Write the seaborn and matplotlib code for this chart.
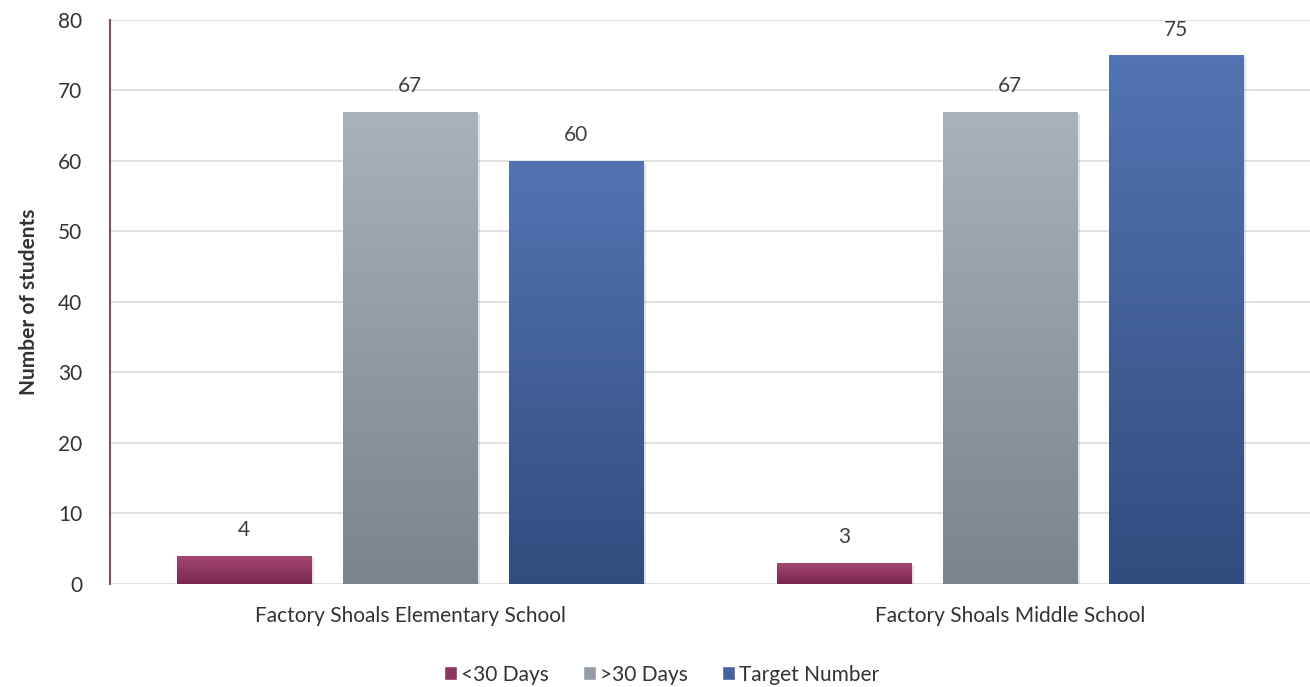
import numpy as np
import pandas as pd
import matplotlib
matplotlib.use("Agg")
import matplotlib.pyplot as plt
from matplotlib.colors import LinearSegmentedColormap
from matplotlib.patches import Patch
import seaborn as sns

schools = ["Factory Shoals Elementary School", "Factory Shoals Middle School"]
series = ["<30 Days", ">30 Days", "Target Number"]
under_30 = [4, 3]
over_30 = [67, 67]
target = [60, 75]

# top / bottom colours of each bar gradient
grad = {
    "<30 Days": ("#a5496f", "#79264f"),
    ">30 Days": ("#a9b1b9", "#7a848d"),
    "Target Number": ("#5373b2", "#314c7e"),
}
legend_colors = ["#8e3660", "#949ca5", "#4663a0"]

df = pd.DataFrame({
    "school": schools * 3,
    "series": [s for s in series for _ in schools],
    "value": under_30 + over_30 + target,
})

sns.set_style("white")
plt.rcParams["font.family"] = ["Lato", "DejaVu Sans"]

fig, ax = plt.subplots(figsize=(13.1, 6.87), dpi=100)
fig.subplots_adjust(left=0.084, right=1.0, top=0.971, bottom=0.15)

palette = {s: grad[s][1] for s in series}
sns.barplot(data=df, x="school", y="value", hue="series", hue_order=series,
            palette=palette, width=0.83, gap=0.19, ax=ax, legend=False,
            saturation=1)

# gradient fill over each bar, with a soft shadow
for cont, s in zip(ax.containers, series):
    cmap = LinearSegmentedColormap.from_list(s, [grad[s][1], grad[s][0]])
    for bar, val in zip(cont.patches, cont.datavalues):
        x0, w, h = bar.get_x(), bar.get_width(), bar.get_height()
        shadow = plt.Rectangle((x0 + 0.004, -0.4), w, h + 0.1, color="#000000",
                               alpha=0.12, zorder=1.5, lw=0)
        ax.add_patch(shadow)
        img = ax.imshow(np.linspace(0, 1, 256).reshape(-1, 1), cmap=cmap,
                        extent=(x0, x0 + w, 0, h), origin="lower",
                        aspect="auto", zorder=3)
        img.set_clip_path(bar)
        bar.set_zorder(2)
        ax.text(x0 + w / 2, h + 2.2, f"{val:g}", ha="center", va="bottom",
                fontsize=15, color="#404040")

ax.set_aspect("auto")
ax.set_xlim(-0.5, 1.5)
ax.set_ylim(0, 80)
ax.set_yticks(range(0, 81, 10))
ax.yaxis.grid(True, color="#dcdcdc", lw=1.2)
ax.set_axisbelow(True)
for sp in ["top", "right", "bottom"]:
    ax.spines[sp].set_visible(False)
ax.spines["left"].set_color("#7f4a6c")
ax.spines["left"].set_linewidth(1.5)
ax.tick_params(axis="both", labelsize=15, colors="#333333", length=0)
ax.tick_params(axis="x", pad=16)
ax.tick_params(axis="y", pad=20)
ax.set_xlabel("")
ax.set_ylabel("Number of students", fontsize=15, fontweight="bold",
              color="#333333", labelpad=14)

handles = [Patch(facecolor=c, label=s) for s, c in zip(series, legend_colors)]
fig.legend(handles=handles, loc="lower center", ncol=3, frameon=False,
           fontsize=15, bbox_to_anchor=(0.505, -0.024), handlelength=0.65,
           handleheight=0.65, handletextpad=0.2, columnspacing=1.6,
           labelcolor="#333333")

fig.savefig("out.png", dpi=100)
